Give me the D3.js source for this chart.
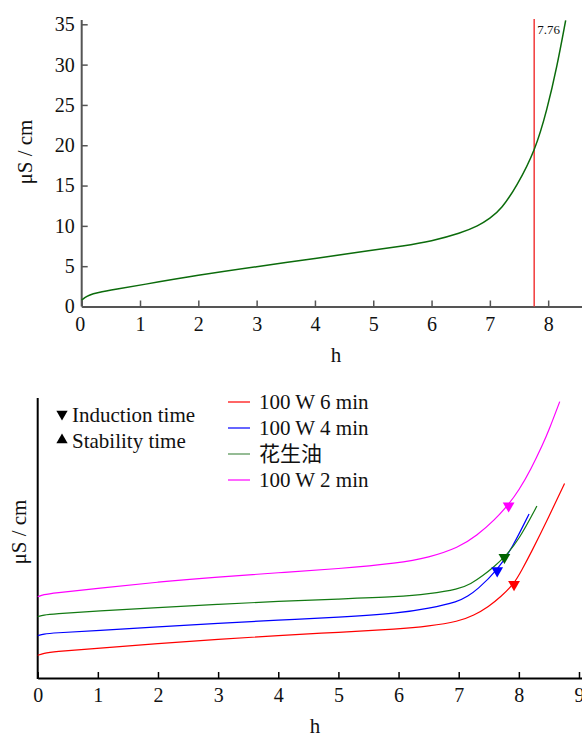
<!DOCTYPE html>
<html>
<head>
<meta charset="utf-8">
<script src="https://cdn.jsdelivr.net/npm/d3@7"></script>
<style>
body { margin: 0; background: #fff; }
svg { display: block; }
text { font-family: "Liberation Serif", "Times New Roman", serif; fill: #111; }
.cjk { font-family: "Liberation Serif", "Noto Sans CJK SC", serif; }
</style>
</head>
<body>
<script>
// top panel: conductivity of peanut oil, h vs uS/cm
var topHours = [0, 0.05, 0.12, 0.26, 0.6, 1, 2, 3, 4, 5, 5.5, 6, 6.5, 6.8, 7, 7.2, 7.46, 7.78, 7.98, 8.15, 8.3];
var topValues = [0.8, 1.1, 1.4, 1.7, 2.15, 2.65, 3.9, 4.95, 5.95, 7.0, 7.5, 8.1, 9.1, 10.0, 10.9, 12.1, 14.9, 19.4, 24.4, 29.7, 35.5];
var topInduction = 7.76;
var topYTicks = [0, 5, 10, 15, 20, 25, 30, 35];
var topXTicks = [0, 1, 2, 3, 4, 5, 6, 7, 8];

// bottom panel: relative conductivity (no unit scale shown)
var seriesNames = ["100 W 6 min", "100 W 4 min", "花生油", "100 W 2 min"];
var seriesColors = ["#ff0000", "#0000ff", "#137a13", "#ff00ff"];
var legendColors = ["#ff0000", "#0000ff", "#4f8f4f", "#ff00ff"];
var markerColors = ["#ff0000", "#0000ff", "#006400", "#ff00ff"];

var redHours = [0, 0.1, 0.25, 1, 2, 3, 4, 5, 6, 6.5, 7, 7.25, 7.5, 7.7, 7.92, 8.05, 8.2, 8.5, 8.76];
var redValues = [8.1, 8.8, 9.4, 10.6, 12.3, 13.8, 15.2, 16.3, 17.5, 18.5, 20.2, 22.3, 25.5, 29.0, 33.6, 38.6, 44.6, 57.6, 69.5];
var blueHours = [0, 0.1, 0.25, 1, 2, 3, 4, 5, 6, 6.5, 7, 7.15, 7.3, 7.64, 7.9, 8.17];
var blueValues = [15.1, 15.7, 16.1, 16.9, 18.3, 19.5, 20.7, 21.7, 23.1, 24.8, 27.3, 29.2, 31.4, 38.3, 46.9, 58.6];
var greenHours = [0, 0.1, 0.25, 1, 2, 3, 4, 5, 6, 6.5, 7, 7.2, 7.4, 7.6, 7.76, 8.0, 8.3];
var greenValues = [21.9, 22.5, 22.9, 23.9, 25.2, 26.3, 27.4, 28.2, 29.0, 30.0, 31.7, 33.6, 36.5, 40.0, 43.1, 49.3, 61.4];
var pinkHours = [0, 0.1, 0.25, 1, 2, 3, 4, 5, 6, 6.5, 7, 7.3, 7.6, 7.83, 8.0, 8.2, 8.4, 8.5, 8.68];
var pinkValues = [29.0, 29.8, 30.3, 32.0, 34.3, 36.1, 37.6, 39.0, 41.0, 43.0, 46.6, 50.8, 56.5, 62.0, 67.0, 74.5, 83.5, 88.5, 98.7];

var inductionHours = [7.92, 7.64, 7.76, 7.83];
var inductionValues = [33.4, 38.3, 43.1, 61.5];
var bottomXTicks = [0, 1, 2, 3, 4, 5, 6, 7, 8, 9];

var width = 582, height = 738;
var svg = d3.select("body").append("svg").attr("width", width).attr("height", height);
var smooth = d3.curveBasis;

// ---------- top chart ----------
var x1 = d3.scaleLinear().domain([0, 8.58]).range([81.7, 582]);
var y1 = d3.scaleLinear().domain([0, 35]).range([306.5, 24.3]);
var gTop = svg.append("g");

var xAxis1 = gTop.append("g")
  .attr("transform", "translate(0," + y1(0) + ")")
  .call(d3.axisBottom(x1).tickValues(topXTicks).tickSizeInner(-6).tickSizeOuter(0).tickPadding(10));
var yAxis1 = gTop.append("g")
  .attr("transform", "translate(" + x1(0) + ",0)")
  .call(d3.axisLeft(y1).tickValues(topYTicks).tickSizeInner(-6).tickSizeOuter(0).tickPadding(7));
[xAxis1, yAxis1].forEach(function(a) {
  a.select(".domain").attr("stroke", "#555").attr("stroke-width", 2);
  a.selectAll(".tick line").attr("stroke", "#555").attr("stroke-width", 1.5);
  a.selectAll(".tick text").style("font-family", "Liberation Serif").style("font-size", "20px").attr("fill", "#111");
});
xAxis1.selectAll(".tick text").attr("dy", "0.71em");
xAxis1.selectAll(".tick").filter(function(d) { return d === 0; }).select("text").attr("x", -2);
yAxis1.select(".domain").attr("d", "M0," + y1(0) + "V20");

gTop.append("line")
  .attr("x1", x1(topInduction)).attr("x2", x1(topInduction))
  .attr("y1", 19).attr("y2", y1(0))
  .attr("stroke", "#f23a3a").attr("stroke-width", 1.5);
gTop.append("text")
  .attr("x", x1(topInduction) + 3).attr("y", 34)
  .style("font-size", "13px")
  .text(topInduction.toFixed(2));

var line1 = d3.line()
  .x(function(d, i) { return x1(topHours[i]); })
  .y(function(d) { return y1(d); })
  .curve(smooth);
gTop.append("path")
  .datum(topValues)
  .attr("d", line1)
  .attr("fill", "none")
  .attr("stroke", "#0b6b0b")
  .attr("stroke-width", 1.5);

gTop.append("text")
  .attr("transform", "translate(32,152) rotate(-90)")
  .attr("text-anchor", "middle")
  .style("font-size", "21px")
  .text("μS / cm");
gTop.append("text")
  .attr("x", 336).attr("y", 362)
  .attr("text-anchor", "middle")
  .style("font-size", "21px")
  .text("h");

// ---------- bottom chart ----------
var x2 = d3.scaleLinear().domain([0, 9.05]).range([37.7, 582]);
var y2 = d3.scaleLinear().domain([0, 100]).range([678, 398]);
var gBot = svg.append("g");

var xAxis2 = gBot.append("g")
  .attr("transform", "translate(0," + y2(0) + ")")
  .call(d3.axisBottom(x2).tickValues(bottomXTicks).tickSizeInner(-6).tickSizeOuter(0).tickPadding(10));
xAxis2.select(".domain").attr("stroke", "#000").attr("stroke-width", 2);
xAxis2.selectAll(".tick line").attr("stroke", "#000").attr("stroke-width", 1.5);
xAxis2.selectAll(".tick text").style("font-family", "Liberation Serif").style("font-size", "20px").attr("fill", "#111").attr("dy", "0.71em");
gBot.append("line")
  .attr("x1", x2(0)).attr("x2", x2(0))
  .attr("y1", y2(0) + 1).attr("y2", y2(100))
  .attr("stroke", "#000").attr("stroke-width", 2);

var allHours = [redHours, blueHours, greenHours, pinkHours];
var allValues = [redValues, blueValues, greenValues, pinkValues];

allValues.forEach(function(vals, s) {
  var hrs = allHours[s];
  var line2 = d3.line()
    .x(function(d, i) { return x2(hrs[i]); })
    .y(function(d) { return y2(d); })
    .curve(smooth);
  gBot.append("path")
    .datum(vals)
    .attr("d", line2)
    .attr("fill", "none")
    .attr("stroke", seriesColors[s])
    .attr("stroke-width", 1.2);
});

var tri = d3.symbol().type(d3.symbolTriangle).size(60);
gBot.selectAll(".marker")
  .data(inductionHours)
  .enter().append("path")
  .attr("class", "marker")
  .attr("d", tri)
  .attr("transform", function(d, i) { return "translate(" + x2(d) + "," + y2(inductionValues[i]) + ") rotate(180)"; })
  .attr("fill", function(d, i) { return markerColors[i]; });

// marker legend
var markerLegend = [["Induction time", 180], ["Stability time", 0]];
markerLegend.forEach(function(m, i) {
  var yy = 415 + i * 26;
  gBot.append("path")
    .attr("d", d3.symbol().type(d3.symbolTriangle).size(55))
    .attr("transform", "translate(62," + (yy - 1) + ") rotate(" + m[1] + ")")
    .attr("fill", "#000");
  gBot.append("text")
    .attr("x", 72).attr("y", yy + 7)
    .style("font-size", "21px")
    .text(m[0]);
});

// series legend
seriesNames.forEach(function(name, i) {
  var yy = 402 + i * 26;
  gBot.append("line")
    .attr("x1", 228).attr("x2", 250)
    .attr("y1", yy).attr("y2", yy)
    .attr("stroke", legendColors[i]).attr("stroke-width", 1.2);
  gBot.append("text")
    .attr("class", i === 2 ? "cjk" : null)
    .attr("x", 259).attr("y", yy + 7)
    .style("font-size", "21px")
    .text(name);
});

gBot.append("text")
  .attr("transform", "translate(26,532) rotate(-90)")
  .attr("text-anchor", "middle")
  .style("font-size", "21px")
  .text("μS / cm");
gBot.append("text")
  .attr("x", 315).attr("y", 733)
  .attr("text-anchor", "middle")
  .style("font-size", "21px")
  .text("h");
</script>
</body>
</html>
